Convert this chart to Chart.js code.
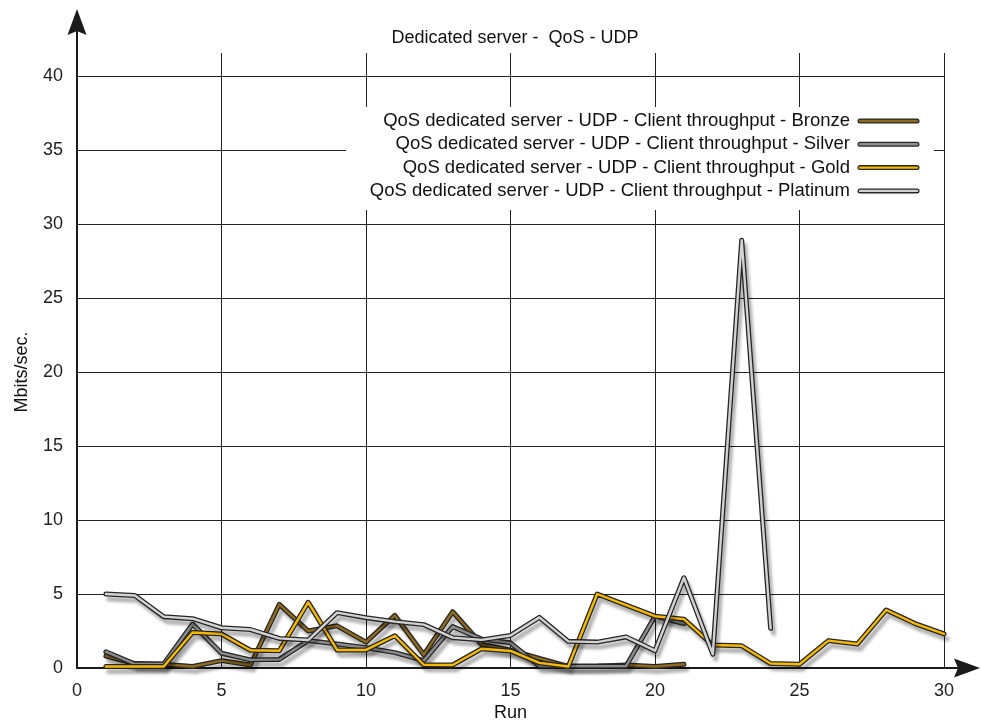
<!DOCTYPE html>
<html>
<head>
<meta charset="utf-8">
<title>Dedicated server - QoS - UDP</title>
<script src="https://cdn.jsdelivr.net/npm/chart.js@4.4.1/dist/chart.umd.min.js"></script>
<style>
  html, body { margin: 0; padding: 0; background: #ffffff; }
  #wrap { width: 981px; height: 724px; }
</style>
</head>
<body>
<div id="wrap"><canvas id="chart" width="981" height="724"></canvas></div>
<script>
// Test runs (x axis)
const runs = [1, 2, 3, 4, 5, 6, 7, 8, 9, 10, 11, 12, 13, 14, 15, 16, 17, 18, 19, 20,
              21, 22, 23, 24, 25, 26, 27, 28, 29, 30];

// Client throughput per QoS class, Mbits/sec.
const bronze   = [0.8, 0.3, 0.25, 0.1, 0.5, 0.2, 4.3, 2.5, 2.85, 1.75, 3.55, 0.9, 3.8, 1.6, 1.2,
                  0.65, 0.1, 0.12, 0.2, 0.1, 0.25];
const silver   = [1.1, 0.27, 0.27, 2.97, 1.0, 0.55, 0.58, 1.85, 1.62, 1.37, 1.04, 0.5, 2.8, 1.95, 1.7,
                  0.13, 0.13, 0.13, 0.13, 3.5, 3.0];
const gold     = [0.1, 0.1, 0.1, 2.4, 2.3, 1.2, 1.17, 4.44, 1.22, 1.22, 2.18, 0.22, 0.2, 1.3, 1.15,
                  0.35, 0.1, 5.0, 4.25, 3.5, 3.3, 1.55, 1.5, 0.3, 0.25, 1.85, 1.62, 3.92, 3.0, 2.3];
const platinum = [5.0, 4.9, 3.47, 3.33, 2.72, 2.6, 2.0, 1.89, 3.74, 3.4, 3.13, 2.93, 2.05, 1.9, 2.2,
                  3.42, 1.8, 1.75, 2.1, 1.17, 6.1, 0.93, 28.9, 2.68];

const seriesNames = [
  'QoS dedicated server - UDP - Client throughput - Bronze',
  'QoS dedicated server - UDP - Client throughput - Silver',
  'QoS dedicated server - UDP - Client throughput - Gold',
  'QoS dedicated server - UDP - Client throughput - Platinum'
];

// Axis tick labels
const xTicks = [0, 5, 10, 15, 20, 25, 30];
const yTicks = [0, 5, 10, 15, 20, 25, 30, 35, 40];

const chartTitle = 'Dedicated server -  QoS - UDP';
const xTitle = 'Run';
const yTitle = 'Mbits/sec.';

const FONT = '"Liberation Sans", Arial, Helvetica, sans-serif';
const OUTLINE = '#262626';

const series = [
  { name: seriesNames[0], values: bronze,   core: '#8d6a1f' },
  { name: seriesNames[1], values: silver,   core: '#8c8c8c' },
  { name: seriesNames[2], values: gold,     core: '#f7b900' },
  { name: seriesNames[3], values: platinum, core: '#d2d2d2' }
];

// Each series is drawn as a dark outline line with a coloured core on top.
const datasets = [];
series.forEach((s, i) => {
  const pts = s.values.map((v, k) => ({ x: runs[k], y: v }));
  const rank = (series.length - 1 - i) * 2;   // later series sit above earlier ones
  const common = {
    label: s.name, data: pts, pointRadius: 0, pointHoverRadius: 0, tension: 0,
    borderJoinStyle: 'round', borderCapStyle: 'round', fill: false, clip: false
  };
  datasets.push(Object.assign({}, common, { borderColor: OUTLINE, borderWidth: 5, order: rank + 1, isOutline: true }));
  datasets.push(Object.assign({}, common, { borderColor: s.core, borderWidth: 2.4, order: rank, isOutline: false }));
});

// Soft drop shadow under each outline stroke
const shadowPlugin = {
  id: 'lineShadow',
  beforeDatasetDraw(chart, args) {
    const ds = chart.data.datasets[args.index];
    chart.ctx.save();
    if (ds.isOutline) {
      chart.ctx.shadowColor = 'rgba(0,0,0,0.3)';
      chart.ctx.shadowBlur = 3;
      chart.ctx.shadowOffsetX = 3;
      chart.ctx.shadowOffsetY = 5;
    }
  },
  afterDatasetDraw(chart) {
    chart.ctx.restore();
  }
};

// Title, axis arrows, grid extensions and the legend panel
const decorPlugin = {
  id: 'decor',
  beforeDatasetsDraw(chart) {
    const { ctx, chartArea: a, scales: { x, y } } = chart;
    ctx.save();

    // vertical grid lines continue a little above the top value
    ctx.strokeStyle = '#222';
    ctx.lineWidth = 1;
    xTicks.forEach(v => {
      if (v === 0) return;
      const px = Math.round(x.getPixelForValue(v) - 0.5) + 0.5;
      ctx.beginPath();
      ctx.moveTo(px, a.top);
      ctx.lineTo(px, a.top - 23);
      ctx.stroke();
    });

    // legend panel
    const lx0 = 346, lx1 = 934, ly0 = 107, ly1 = 210;
    ctx.fillStyle = '#ffffff';
    ctx.fillRect(lx0, ly0, lx1 - lx0, ly1 - ly0);
    ctx.font = '18.5px ' + FONT;
    ctx.textAlign = 'right';
    ctx.textBaseline = 'middle';
    series.forEach((s, i) => {
      const ty = 121 + i * 23.3;
      ctx.fillStyle = '#111';
      ctx.fillText(s.name, 850, ty);
      ctx.lineCap = 'round';
      ctx.strokeStyle = OUTLINE;
      ctx.lineWidth = 5;
      ctx.beginPath(); ctx.moveTo(860, ty); ctx.lineTo(917, ty); ctx.stroke();
      ctx.strokeStyle = s.core;
      ctx.lineWidth = 2.4;
      ctx.beginPath(); ctx.moveTo(860, ty); ctx.lineTo(917, ty); ctx.stroke();
    });

    // chart title
    ctx.fillStyle = '#111';
    ctx.font = '18px ' + FONT;
    ctx.textAlign = 'center';
    ctx.textBaseline = 'middle';
    ctx.fillText(chartTitle, 515, 38);

    // axes with arrow heads
    const ox = x.getPixelForValue(0), oy = y.getPixelForValue(0);
    ctx.strokeStyle = '#1a1a1a';
    ctx.fillStyle = '#1a1a1a';
    ctx.lineWidth = 2;
    ctx.lineCap = 'butt';
    ctx.beginPath();
    ctx.moveTo(ox, oy + 1); ctx.lineTo(ox, 30);
    ctx.moveTo(ox - 1, oy); ctx.lineTo(960, oy);
    ctx.stroke();
    // up arrow
    ctx.beginPath();
    ctx.moveTo(ox, 9);
    ctx.lineTo(ox + 9.5, 35);
    ctx.lineTo(ox, 31);
    ctx.lineTo(ox - 9.5, 35);
    ctx.closePath();
    ctx.fill();
    // right arrow
    ctx.beginPath();
    ctx.moveTo(980, oy);
    ctx.lineTo(954, oy + 9.5);
    ctx.lineTo(958, oy);
    ctx.lineTo(954, oy - 9.5);
    ctx.closePath();
    ctx.fill();

    ctx.restore();
  }
};

new Chart(document.getElementById('chart'), {
  type: 'line',
  data: { datasets },
  plugins: [decorPlugin, shadowPlugin],
  options: {
    responsive: false,
    animation: false,
    devicePixelRatio: 1,
    events: [],
    layout: { padding: { top: 76, right: 37, bottom: 0, left: 0 } },
    plugins: {
      legend: { display: false },
      title: { display: false },
      tooltip: { enabled: false }
    },
    scales: {
      x: {
        type: 'linear', min: 0, max: 30,
        afterBuildTicks: s => { s.ticks = xTicks.map(v => ({ value: v })); },
        afterFit: s => { s.height = 56; },
        grid: { color: '#222', lineWidth: 1, drawTicks: false },
        border: { display: false },
        ticks: { color: '#222', padding: 12, maxRotation: 0, font: { family: FONT, size: 18 } },
        title: { display: true, text: xTitle, color: '#111', padding: { top: 0, bottom: 0 },
                 font: { family: FONT, size: 18 } }
      },
      y: {
        type: 'linear', min: 0, max: 40,
        afterBuildTicks: s => { s.ticks = yTicks.map(v => ({ value: v })); },
        afterFit: s => { s.width = 77; },
        grid: { color: '#222', lineWidth: 1, drawTicks: false },
        border: { display: false },
        ticks: { color: '#222', padding: 14, font: { family: FONT, size: 18 } },
        title: { display: true, text: yTitle, color: '#111', padding: { top: 11, bottom: 0 },
                 font: { family: FONT, size: 18 } }
      }
    }
  }
});
</script>
</body>
</html>
